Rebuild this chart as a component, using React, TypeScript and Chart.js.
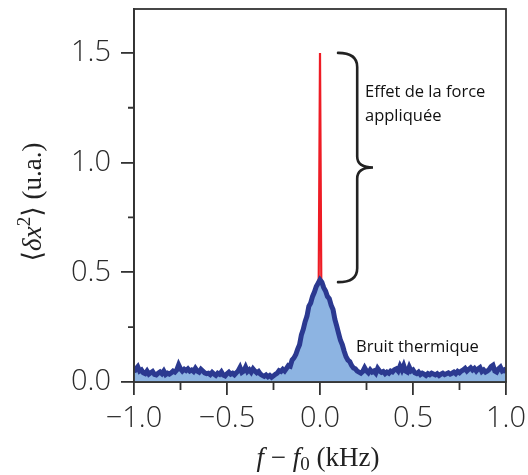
import React, { useEffect, useRef } from 'react';
import { Chart, registerables } from 'chart.js';

Chart.register(...registerables);

// ---- Data ----
const freqKHz = [
  -1.0, -0.99, -0.98, -0.97, -0.96, -0.95, -0.94, -0.93, -0.92, -0.91,
  -0.9, -0.89, -0.88, -0.87, -0.86, -0.85, -0.84, -0.83, -0.82, -0.81,
  -0.8, -0.79, -0.78, -0.77, -0.76, -0.75, -0.74, -0.73, -0.72, -0.71,
  -0.7, -0.69, -0.68, -0.67, -0.66, -0.65, -0.64, -0.63, -0.62, -0.61,
  -0.6, -0.59, -0.58, -0.57, -0.56, -0.55, -0.54, -0.53, -0.52, -0.51,
  -0.5, -0.49, -0.48, -0.47, -0.46, -0.45, -0.44, -0.43, -0.42, -0.41,
  -0.4, -0.39, -0.38, -0.37, -0.36, -0.35, -0.34, -0.33, -0.32, -0.31,
  -0.3, -0.29, -0.28, -0.27, -0.26, -0.25, -0.24, -0.23, -0.22, -0.21,
  -0.2, -0.19, -0.18, -0.17, -0.16, -0.15, -0.14, -0.13, -0.12, -0.11,
  -0.1, -0.09, -0.08, -0.07, -0.06, -0.05, -0.04, -0.03, -0.02, -0.01,
  0.0, 0.01, 0.02, 0.03, 0.04, 0.05, 0.06, 0.07, 0.08, 0.09,
  0.1, 0.11, 0.12, 0.13, 0.14, 0.15, 0.16, 0.17, 0.18, 0.19,
  0.2, 0.21, 0.22, 0.23, 0.24, 0.25, 0.26, 0.27, 0.28, 0.29,
  0.3, 0.31, 0.32, 0.33, 0.34, 0.35, 0.36, 0.37, 0.38, 0.39,
  0.4, 0.41, 0.42, 0.43, 0.44, 0.45, 0.46, 0.47, 0.48, 0.49,
  0.5, 0.51, 0.52, 0.53, 0.54, 0.55, 0.56, 0.57, 0.58, 0.59,
  0.6, 0.61, 0.62, 0.63, 0.64, 0.65, 0.66, 0.67, 0.68, 0.69,
  0.7, 0.71, 0.72, 0.73, 0.74, 0.75, 0.76, 0.77, 0.78, 0.79,
  0.8, 0.81, 0.82, 0.83, 0.84, 0.85, 0.86, 0.87, 0.88, 0.89,
  0.9, 0.91, 0.92, 0.93, 0.94, 0.95, 0.96, 0.97, 0.98, 0.99,
  1.0,
];

const thermalNoise = [
  0.045, 0.06, 0.07, 0.05, 0.055, 0.042, 0.038, 0.05, 0.036, 0.042,
  0.048, 0.035, 0.032, 0.04, 0.046, 0.038, 0.05, 0.034, 0.04, 0.036,
  0.042, 0.05, 0.045, 0.055, 0.078, 0.06, 0.05, 0.058, 0.052, 0.06,
  0.05, 0.055, 0.048, 0.062, 0.05, 0.045, 0.058, 0.05, 0.042, 0.038,
  0.04, 0.034, 0.044, 0.036, 0.03, 0.04, 0.035, 0.046, 0.032, 0.028,
  0.038, 0.045, 0.036, 0.04, 0.033, 0.042, 0.05, 0.066, 0.044, 0.05,
  0.068, 0.048, 0.056, 0.045, 0.06, 0.05, 0.042, 0.048, 0.036, 0.03,
  0.026, 0.032, 0.024, 0.03, 0.022, 0.028, 0.035, 0.04, 0.052, 0.048,
  0.058, 0.05, 0.062, 0.075, 0.072, 0.1, 0.11, 0.125, 0.15, 0.17,
  0.215, 0.24, 0.275, 0.3, 0.345, 0.36, 0.39, 0.41, 0.435, 0.45,
  0.466, 0.455, 0.43, 0.415, 0.39, 0.38, 0.35, 0.33, 0.285, 0.255,
  0.222, 0.19, 0.17, 0.14, 0.115, 0.1, 0.093, 0.075, 0.064, 0.06,
  0.05, 0.045, 0.04, 0.048, 0.065, 0.05, 0.042, 0.055, 0.045, 0.05,
  0.04, 0.062, 0.05, 0.044, 0.048, 0.038, 0.045, 0.04, 0.05, 0.046,
  0.056, 0.06, 0.05, 0.072, 0.055, 0.075, 0.05, 0.045, 0.068, 0.05,
  0.055, 0.042, 0.038, 0.045, 0.034, 0.04, 0.036, 0.03, 0.038, 0.033,
  0.04, 0.036, 0.032, 0.038, 0.03, 0.036, 0.04, 0.034, 0.038, 0.042,
  0.036, 0.04, 0.045, 0.038, 0.048, 0.042, 0.05, 0.055, 0.062, 0.05,
  0.058, 0.065, 0.055, 0.062, 0.05, 0.06, 0.066, 0.048, 0.055, 0.045,
  0.05, 0.058, 0.07, 0.076, 0.05, 0.045, 0.06, 0.068, 0.05, 0.055,
  0.045,
];

const forcedFreqKHz = [-0.007, 0.0, 0.007];
const forcedResponse = [0.45, 1.5, 0.45];

const xMajorTicks = [-1.0, -0.5, 0.0, 0.5, 1.0];
const xMinorTicks = [-0.75, -0.25, 0.25, 0.75];
const yMajorTicks = [0.0, 0.5, 1.0, 1.5];
const yMinorTicks = [0.25, 0.75, 1.25];

const forceLabel = ['Effet de la force', 'appliquée'];
const thermalLabel = 'Bruit thermique';

// annotation anchors (data units)
const braceTop = 1.5;
const braceBottom = 0.455;
const braceTipX = 0.097;
const braceSpineX = 0.2;
const bracePointX = 0.285;
const forceLabelX = 0.242;
const forceLabelY = [1.3, 1.19];
const thermalLabelX = 0.194;
const thermalLabelY = 0.137;

const AXIS_COLOR = '#333333';
const TICK_FONT = { family: 'Open Sans', size: 29, weight: 300 as any };

const fmt = (v: number) => (v < 0 ? '\u2212' + Math.abs(v).toFixed(1) : Number(v).toFixed(1));

const decorPlugin = {
  id: 'decor',
  afterDraw(chart: any) {
    const { ctx, chartArea: a, scales } = chart;
    const xs = scales.x;
    const ys = scales.y;
    ctx.save();
    // frame
    ctx.strokeStyle = AXIS_COLOR;
    ctx.lineWidth = 1.8;
    ctx.strokeRect(a.left, a.top, a.right - a.left, a.bottom - a.top);
    // minor ticks
    ctx.beginPath();
    xMinorTicks.forEach((v) => {
      const px = xs.getPixelForValue(v);
      ctx.moveTo(px, a.bottom);
      ctx.lineTo(px, a.bottom + 8);
    });
    yMinorTicks.forEach((v) => {
      const py = ys.getPixelForValue(v);
      ctx.moveTo(a.left - 6, py);
      ctx.lineTo(a.left, py);
    });
    ctx.stroke();

    // brace
    const tx = xs.getPixelForValue(braceTipX);
    const sx = xs.getPixelForValue(braceSpineX);
    const pxp = xs.getPixelForValue(bracePointX);
    const ty = ys.getPixelForValue(braceTop);
    const by = ys.getPixelForValue(braceBottom);
    const my = (ty + by) / 2;
    const r = 14;
    const rm = 11;
    ctx.beginPath();
    ctx.strokeStyle = '#222';
    ctx.lineWidth = 2.6;
    ctx.lineCap = 'round';
    ctx.moveTo(tx, ty);
    ctx.quadraticCurveTo(sx, ty, sx, ty + r);
    ctx.lineTo(sx, my - rm);
    ctx.quadraticCurveTo(sx, my, pxp, my);
    ctx.quadraticCurveTo(sx, my, sx, my + rm);
    ctx.lineTo(sx, by - r);
    ctx.quadraticCurveTo(sx, by, tx, by);
    ctx.stroke();

    // annotation texts
    ctx.fillStyle = '#111';
    ctx.font = '16.5px "Open Sans"';
    ctx.textAlign = 'left';
    ctx.textBaseline = 'alphabetic';
    forceLabel.forEach((t, i) => {
      ctx.fillText(t, xs.getPixelForValue(forceLabelX), ys.getPixelForValue(forceLabelY[i]));
    });
    ctx.fillText(thermalLabel, xs.getPixelForValue(thermalLabelX), ys.getPixelForValue(thermalLabelY));

    // axis titles (LaTeX-like)
    const serif = '"Liberation Serif", "DejaVu Serif", serif';
    const size = 27;
    const drawRuns = (runs: { t: string; f: string; dy?: number }[], cx: number, baseY: number) => {
      let total = 0;
      runs.forEach((r) => {
        ctx.font = r.f;
        total += ctx.measureText(r.t).width;
      });
      let x = cx - total / 2;
      runs.forEach((r) => {
        ctx.font = r.f;
        ctx.fillText(r.t, x, baseY + (r.dy || 0));
        x += ctx.measureText(r.t).width;
      });
    };
    ctx.fillStyle = '#222';
    const up = `${size}px ${serif}`;
    const it = `italic ${size}px ${serif}`;
    const sm = `${Math.round(size * 0.7)}px ${serif}`;
    drawRuns(
      [
        { t: 'f', f: it },
        { t: ' \u2212 ', f: up },
        { t: 'f', f: it },
        { t: '0', f: sm, dy: 4 },
        { t: ' (kHz)', f: up },
      ],
      (a.left + a.right) / 2 - 2,
      466
    );
    ctx.save();
    ctx.translate(41, 202);
    ctx.rotate(-Math.PI / 2);
    drawRuns(
      [
        { t: '\u27E8', f: up },
        { t: '\u03B4', f: it },
        { t: 'x', f: it },
        { t: '2', f: sm, dy: -11 },
        { t: '\u27E9', f: up },
        { t: ' (u.a.)', f: up },
      ],
      0,
      0
    );
    ctx.restore();
    ctx.restore();
  },
};

export default function App() {
  const ref = useRef<HTMLCanvasElement | null>(null);
  useEffect(() => {
    document.body.style.margin = '0';
    const canvas = ref.current!;
    const chart = new Chart(canvas, {
      type: 'line',
      data: {
        datasets: [
          {
            label: 'Bruit thermique',
            data: freqKHz.map((x, i) => ({ x, y: thermalNoise[i] })),
            borderColor: '#2b3990',
            backgroundColor: '#8db4e2',
            fill: 'origin',
            borderWidth: 5,
            pointRadius: 0,
            tension: 0,
            order: 1,
          },
          {
            label: 'Effet de la force appliquée',
            data: forcedFreqKHz.map((x, i) => ({ x, y: forcedResponse[i] })),
            borderColor: '#ee1c25',
            borderWidth: 2.2,
            pointRadius: 0,
            fill: false,
            tension: 0,
            order: 2,
          },
        ],
      },
      options: {
        animation: false,
        responsive: false,
        maintainAspectRatio: false,
        layout: { padding: { top: 9, right: 22, left: 0, bottom: 0 } },
        plugins: { legend: { display: false }, tooltip: { enabled: false } },
        scales: {
          x: {
            type: 'linear',
            min: -1,
            max: 1,
            afterBuildTicks: (s: any) => {
              s.ticks = xMajorTicks.map((value) => ({ value }));
            },
            afterFit: (s: any) => {
              s.height = 93;
              s.paddingLeft = 0;
              s.paddingRight = 0;
            },
            ticks: {
              font: TICK_FONT,
              color: '#2b2b2b',
              padding: 6,
              maxRotation: 0,
              autoSkip: false,
              callback: (v: any) => fmt(Number(v)),
            },
            grid: { drawOnChartArea: false, drawTicks: true, tickLength: 13, color: AXIS_COLOR, lineWidth: 1.8 },
            border: { display: true, color: AXIS_COLOR, width: 1.8 },
          },
          y: {
            type: 'linear',
            min: 0,
            max: 1.7,
            afterBuildTicks: (s: any) => {
              s.ticks = yMajorTicks.map((value) => ({ value }));
            },
            afterFit: (s: any) => {
              s.width = 134;
              s.paddingTop = 0;
              s.paddingBottom = 0;
            },
            ticks: {
              font: TICK_FONT,
              color: '#2b2b2b',
              padding: 10,
              autoSkip: false,
              callback: (v: any) => fmt(Number(v)),
            },
            grid: { drawOnChartArea: false, drawTicks: true, tickLength: 13, color: AXIS_COLOR, lineWidth: 1.8 },
            border: { display: true, color: AXIS_COLOR, width: 1.8 },
          },
        },
      },
      plugins: [decorPlugin],
    });
    return () => chart.destroy();
  }, []);
  return (
    <div style={{ width: 528, height: 475 }}>
      <canvas ref={ref} width={528} height={475} style={{ display: 'block' }} />
    </div>
  );
}
